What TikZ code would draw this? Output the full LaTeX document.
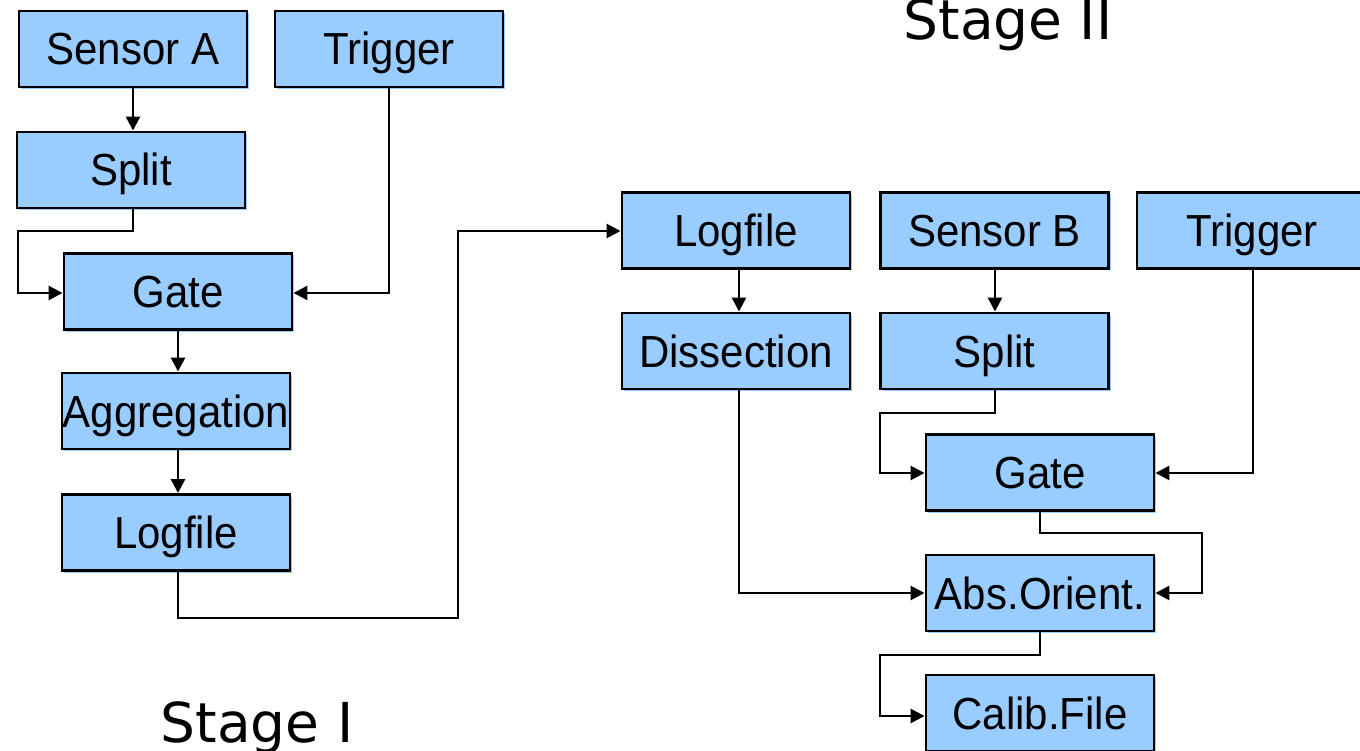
\documentclass[tikz,border=0pt]{standalone}
\usepackage{fontspec}
\usepackage{graphicx}
\setmainfont{Liberation Sans}
\newfontfamily\stagefont{DejaVu Sans}
\usetikzlibrary{arrows.meta,shadows}
\definecolor{boxblue}{HTML}{99CCFF}
\newcommand\bt[1]{\scalebox{1}[1.07]{#1}}
\tikzset{
  box/.style={draw=black, fill=boxblue, line width=2.9pt, rectangle, inner sep=0pt,
    minimum width=228pt, minimum height=76pt, text height=32pt, text depth=0pt,
    font=\fontsize{42}{44}\selectfont,
    drop shadow={shadow xshift=2pt, shadow yshift=-2pt, fill=boxblue, opacity=1, draw=none}},
  conn/.style={line width=2.7pt, -{Triangle[length=14pt,width=14pt]}},
  stage/.style={font=\stagefont\fontsize{55}{60}\selectfont, anchor=base, inner sep=0pt}
}
\begin{document}
\begin{tikzpicture}[x=1pt,y=-1pt]
\useasboundingbox (0,0) rectangle (1360,751);
% Stage I
\node[box] (sa) at (133,49) {\bt{Sensor A}};
\node[box] (tr1) at (389,49) {\bt{Trigger}};
\node[box] (sp1) at (131,170) {\bt{Split}};
\node[box] (g1) at (178,291.5) {\bt{Gate}};
\node[box] (ag) at (176,411) {\bt{Aggregation}};
\node[box] (lf1) at (176,532.5) {\bt{Logfile}};
% Stage II
\node[box] (lf2) at (736,230.5) {\bt{Logfile}};
\node[box] (sb) at (994.5,230.5) {\bt{Sensor B}};
\node[box, minimum width=230pt] (tr2) at (1252,230.5) {\bt{Trigger}};
\node[box] (ds) at (736,351) {\bt{Dissection}};
\node[box] (sp2) at (994.5,351) {\bt{Split}};
\node[box] (g2) at (1040,472.5) {\bt{Gate}};
\node[box] (ao) at (1040,593) {\bt{Abs.Orient.}};
\node[box] (cf) at (1040,713) {\bt{Calib.File}};
% labels
\node[stage] (s1) at (257,742) {Stage I};
\node[stage] (s2) at (1008,40) {Stage II};
% turn points
\coordinate (p1) at (133,231);
\coordinate (p2) at (18,231);
\coordinate (p3) at (18,293);
\coordinate (p4) at (389,293);
\coordinate (q1) at (178,618);
\coordinate (q2) at (458,618);
\coordinate (q3) at (458,231);
\coordinate (r1) at (995,413);
\coordinate (r2) at (880,413);
\coordinate (r3) at (880,473);
\coordinate (r4) at (1253,473);
\coordinate (t1) at (1040,533);
\coordinate (t2) at (1202,533);
\coordinate (t3) at (1202,593);
\coordinate (u1) at (739,593);
\coordinate (v1) at (1040,655);
\coordinate (v2) at (880,655);
\coordinate (v3) at (880,716);
% connectors Stage I
\draw[conn] (sa.south) -- (sa.south |- sp1.north);
\draw[conn] (p1 |- sp1.south) -- (p1) -- (p2) -- (p3) -- (p3 -| g1.west);
\draw[conn] (p4 |- tr1.south) -- (p4) -- (p4 -| g1.east);
\draw[conn] (g1.south) -- (g1.south |- ag.north);
\draw[conn] (g1.south |- ag.south) -- (g1.south |- lf1.north);
\draw[conn] (q1 |- lf1.south) -- (q1) -- (q2) -- (q3) -- (q3 -| lf2.west);
% connectors Stage II
\draw[conn] (u1 |- lf2.south) -- (u1 |- ds.north);
\draw[conn] (r1 |- sb.south) -- (r1 |- sp2.north);
\draw[conn] (r1 |- sp2.south) -- (r1) -- (r2) -- (r3) -- (r3 -| g2.west);
\draw[conn] (r4 |- tr2.south) -- (r4) -- (r4 -| g2.east);
\draw[conn] (g2.south) -- (t1) -- (t2) -- (t3) -- (t3 -| ao.east);
\draw[conn] (u1 |- ds.south) -- (u1) -- (u1 -| ao.west);
\draw[conn] (ao.south) -- (v1) -- (v2) -- (v3) -- (v3 -| cf.west);
\end{tikzpicture}
\end{document}
